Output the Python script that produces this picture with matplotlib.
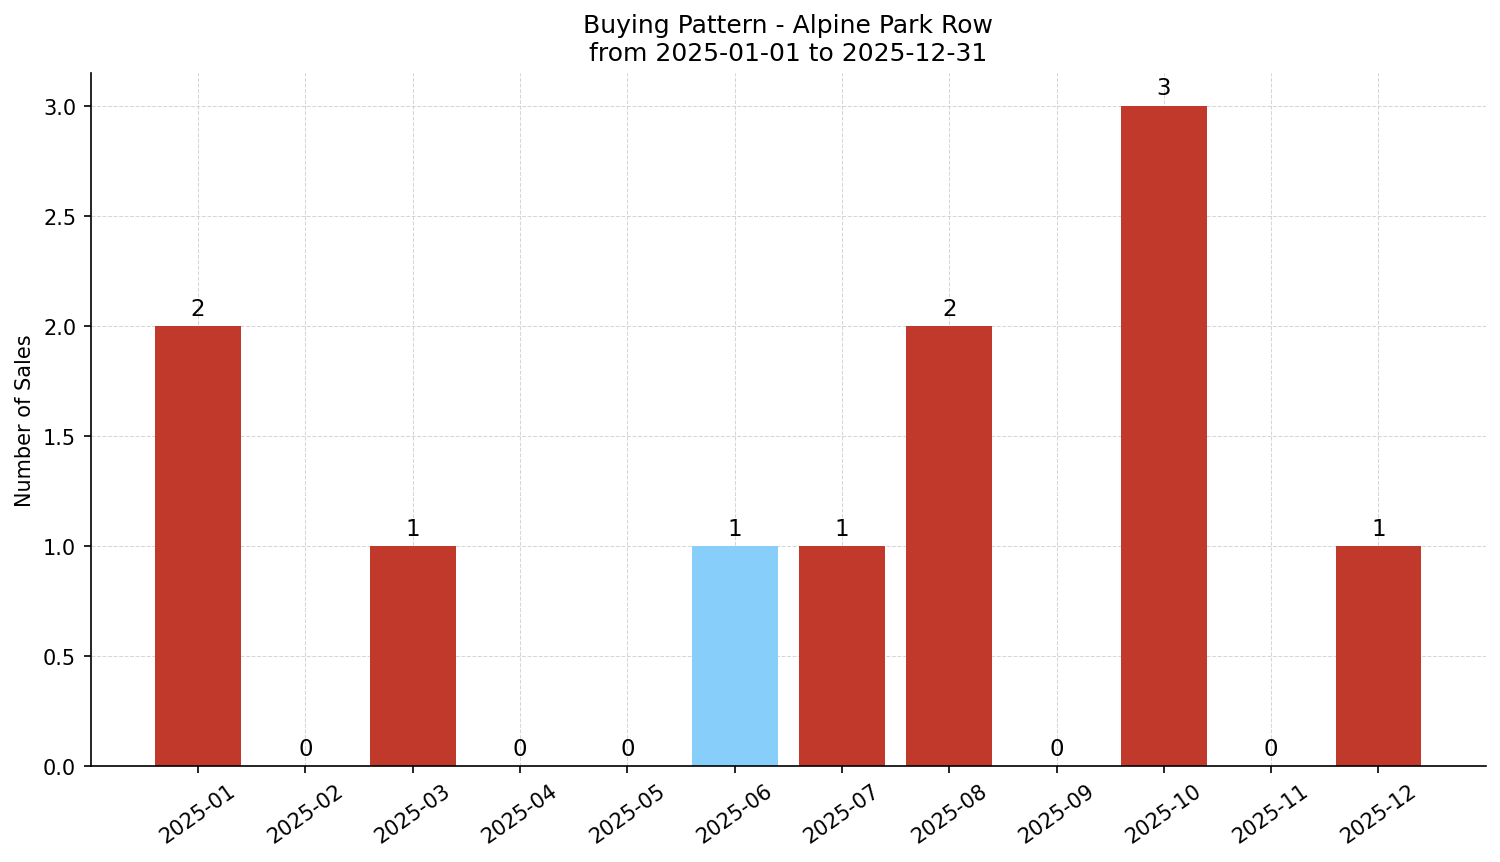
import numpy as np
import matplotlib.pyplot as plt

months = ['2025-01', '2025-02', '2025-03', '2025-04', '2025-05', '2025-06',
          '2025-07', '2025-08', '2025-09', '2025-10', '2025-11', '2025-12']
sales = [2, 0, 1, 0, 0, 1, 1, 2, 0, 3, 0, 1]
highlight = '2025-06'

red = '#c0392b'
blue = '#87cefa'
colors = [blue if m == highlight else red for m in months]

fig, ax = plt.subplots(figsize=(10.0, 5.75), dpi=150)
fig.subplots_adjust(left=0.0605, right=0.9905, top=0.9145, bottom=0.111)

x = np.arange(len(months))
bars = ax.bar(x, sales, width=0.8, color=colors, zorder=2)
ax.bar_label(bars, labels=[str(v) for v in sales], padding=3, fontsize=11)

ax.set_xticks(x)
ax.set_xticklabels(months, rotation=35)
ax.set_xlim(-1, len(months))
ax.set_ylim(0, 3.15)
ax.set_yticks(np.arange(0, 3.01, 0.5))
ax.set_ylabel('Number of Sales')
ax.set_title('Buying Pattern - Alpine Park Row\nfrom 2025-01-01 to 2025-12-31', fontsize=12)

ax.grid(True, linestyle='--', linewidth=0.5, color='#cccccc', alpha=0.8, zorder=0)
ax.set_axisbelow(True)
ax.spines['top'].set_visible(False)
ax.spines['right'].set_visible(False)

fig.savefig('out.png', dpi=150)
